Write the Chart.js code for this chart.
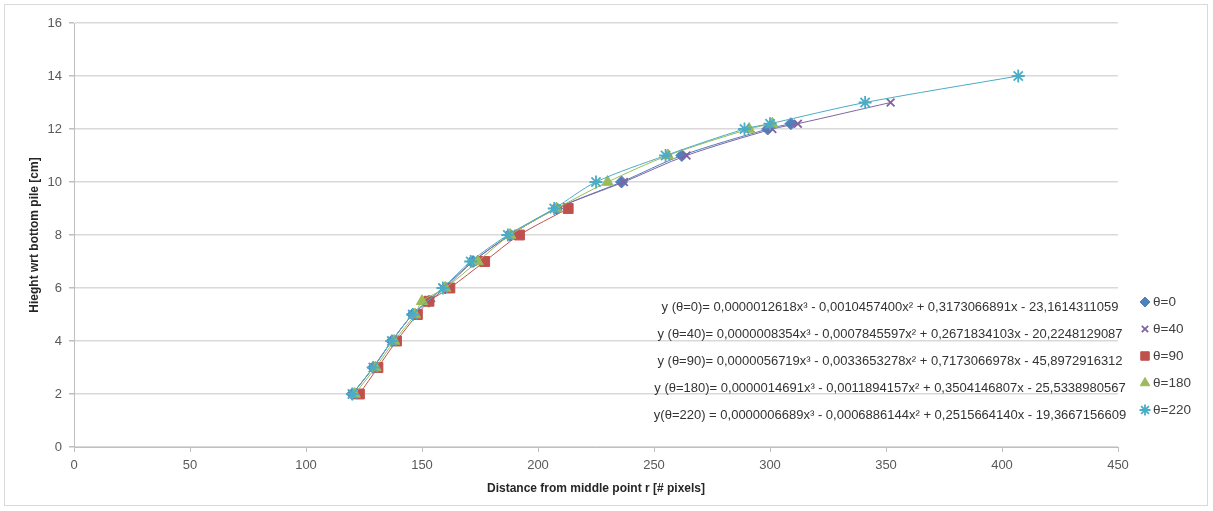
<!DOCTYPE html>
<html>
<head>
<meta charset="utf-8">
<script src="https://cdn.jsdelivr.net/npm/chart.js@4.4.1/dist/chart.umd.min.js"></script>
<style>
  html, body { margin: 0; padding: 0; background: #fff; }
  #wrap { width: 1213px; height: 511px; }
</style>
</head>
<body>
<div id="wrap"><canvas id="pileChart" width="1213" height="511"></canvas></div>
<script>
// Профили кучи: расстояние r [пиксели] и высота h [см] для каждого угла
const r0   = [120, 129, 137, 146, 153, 160, 172, 188, 208, 236, 262, 299, 309];
const h0   = [2, 3, 4, 5, 5.5, 6, 7, 8, 9, 10, 11, 12, 12.2];
const r40  = [120, 129, 137, 146, 159, 172, 188, 208, 237, 264, 301, 312, 352];
const h40  = [2, 3, 4, 5, 6, 7, 8, 9, 10, 11, 12, 12.2, 13];
const r90  = [123, 131, 139, 148, 153, 162, 177, 192, 213];
const h90  = [2, 3, 4, 5, 5.5, 6, 7, 8, 9];
const r180 = [121, 130, 138, 147, 150, 160, 174, 188, 208, 230, 256, 291, 301];
const h180 = [2, 3, 4, 5, 5.5, 6, 7, 8, 9, 10, 11, 12, 12.2];
const r220 = [120, 129, 137, 146, 159, 171, 187, 207, 225, 255, 289, 300, 341, 407];
const h220 = [2, 3, 4, 5, 6, 7, 8, 9, 10, 11, 12, 12.2, 13, 14];

const seriesNames = ['θ=0', 'θ=40', 'θ=90', 'θ=180', 'θ=220'];

// Уравнения линий тренда (полином 3-й степени)
const equations = [
  'y (θ=0)= 0,0000012618x³ - 0,0010457400x² + 0,3173066891x - 23,1614311059',
  'y (θ=40)= 0,0000008354x³ - 0,0007845597x² + 0,2671834103x - 20,2248129087',
  'y (θ=90)= 0,0000056719x³ - 0,0033653278x² + 0,7173066978x - 45,8972916312',
  'y (θ=180)= 0,0000014691x³ - 0,0011894157x² + 0,3504146807x - 25,5338980567',
  'y(θ=220) = 0,0000006689x³ - 0,0006886144x² + 0,2515664140x - 19,3667156609'
];

const xs = [r0, r40, r90, r180, r220];
const ys = [h0, h40, h90, h180, h220];

const colors = ['#4F81BD', '#8064A2', '#C0504D', '#9BBB59', '#4BACC6'];
const styles = ['rectRot', 'crossRot', 'rect', 'triangle', 'star'];
const radii  = [6, 5.5, 7, 6.5, 6.5];

const datasets = seriesNames.map((name, i) => ({
  label: name,
  data: xs[i].map((x, k) => ({ x: x, y: ys[i][k] })),
  showLine: true,
  tension: 0.3,
  borderColor: colors[i],
  backgroundColor: colors[i],
  borderWidth: 1,
  pointStyle: styles[i],
  pointRadius: radii[i],
  pointBorderWidth: (styles[i] === 'crossRot' || styles[i] === 'star') ? 1.8 : 1,
  pointBorderColor: colors[i],
  pointBackgroundColor: colors[i],
  order: 4 - i
}));

const textColor = '#595959';
const gridColor = '#D9D9D9';
const axisColor = '#BFBFBF';
const fontFamily = '"Liberation Sans", Arial, sans-serif';

// Подписи уравнений, легенда и рамка
const overlayPlugin = {
  id: 'overlay',
  afterDraw(chart) {
    const ctx = chart.ctx;
    ctx.save();

    // рамка вокруг всей диаграммы
    ctx.strokeStyle = '#D9D9D9';
    ctx.lineWidth = 1;
    ctx.strokeRect(4.5, 4.5, 1203, 501);

    // уравнения
    ctx.font = '13px ' + fontFamily;
    ctx.fillStyle = '#333333';
    ctx.textAlign = 'center';
    ctx.textBaseline = 'middle';
    equations.forEach((eq, i) => {
      ctx.fillText(eq, 890, 307 + i * 27, 490);
    });

    // легенда
    ctx.font = '13.5px ' + fontFamily;
    ctx.textAlign = 'left';
    chart.data.datasets.forEach((ds, i) => {
      const y = 302 + i * 27;
      ctx.fillStyle = ds.pointBackgroundColor;
      ctx.strokeStyle = ds.pointBorderColor;
      ctx.lineWidth = ds.pointBorderWidth;
      Chart.helpers.drawPoint(ctx, {
        pointStyle: ds.pointStyle,
        radius: ds.pointRadius - 1,
        borderWidth: ds.pointBorderWidth,
        rotation: 0
      }, 1145, y);
      ctx.fillStyle = '#404040';
      ctx.fillText(ds.label, 1153, y);
    });

    ctx.restore();
  }
};

const ctx = document.getElementById('pileChart').getContext('2d');
const pileChart = new Chart(ctx, {
  type: 'scatter',
  data: { datasets: datasets },
  options: {
    responsive: false,
    animation: false,
    layout: { padding: { top: 23, right: 95, left: 0, bottom: 0 } },
    plugins: {
      legend: { display: false },
      tooltip: { enabled: false }
    },
    scales: {
      x: {
        type: 'linear',
        min: 0,
        max: 450,
        ticks: {
          stepSize: 50,
          color: textColor,
          font: { family: fontFamily, size: 13 },
          padding: 6
        },
        grid: {
          drawOnChartArea: false,
          drawTicks: true,
          tickLength: 5,
          color: axisColor
        },
        border: { color: axisColor },
        title: {
          display: true,
          text: 'Distance from middle point r [# pixels]',
          color: '#262626',
          font: { family: fontFamily, size: 12, weight: 'bold' },
          padding: { top: 0, bottom: 15 }
        },
        afterFit(scale) { scale.height = 64; }
      },
      y: {
        type: 'linear',
        min: 0,
        max: 16,
        ticks: {
          stepSize: 2,
          color: textColor,
          font: { family: fontFamily, size: 13 },
          padding: 7
        },
        grid: {
          color: gridColor,
          lineWidth: 1.5,
          tickLength: 5,
          tickColor: axisColor
        },
        border: { color: axisColor },
        title: {
          display: true,
          text: 'Hieght wrt bottom pile [cm]',
          color: '#262626',
          font: { family: fontFamily, size: 12, weight: 'bold' },
          padding: { top: 27, bottom: 0 }
        },
        afterFit(scale) { scale.width = 74; }
      }
    }
  },
  plugins: [overlayPlugin]
});
</script>
</body>
</html>
